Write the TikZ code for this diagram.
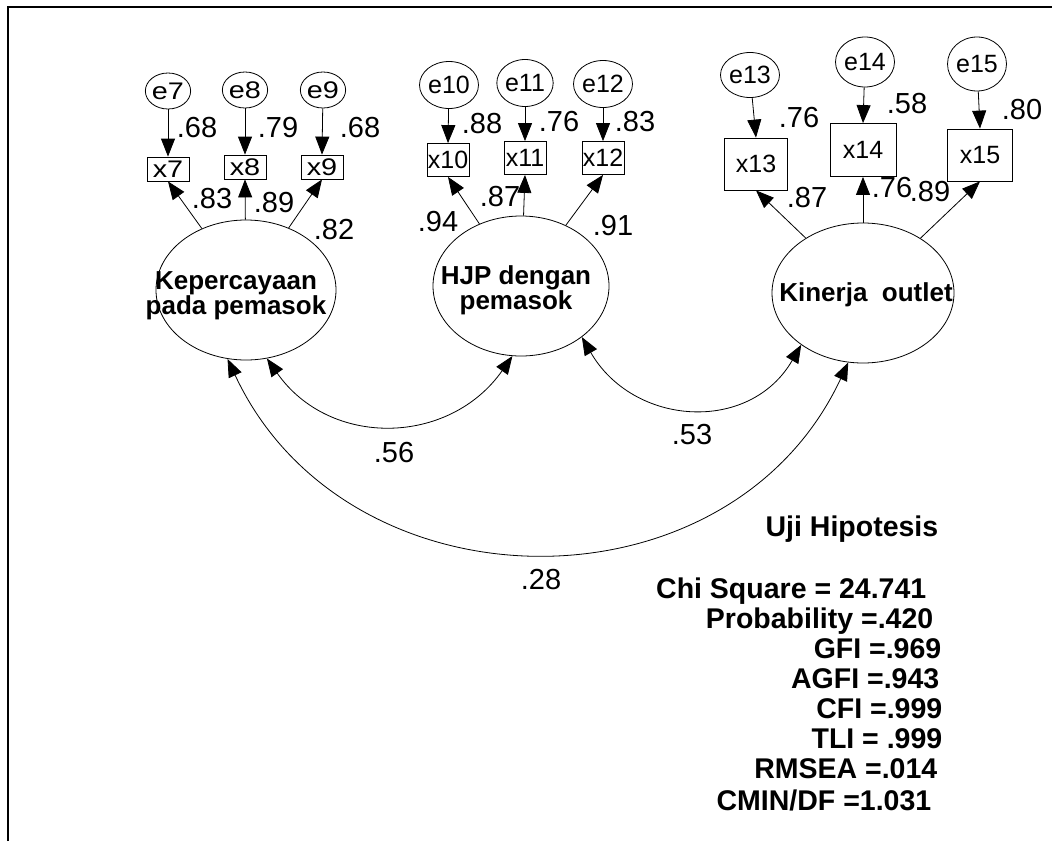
\documentclass[tikz,border=0pt]{standalone}
\usepackage{fontspec}
\setmainfont{Liberation Sans}
\newfontfamily\sansA[FakeStretch=1.2]{Liberation Sans}
\newfontfamily\sansB[FakeStretch=1.0]{Liberation Sans}
\usepackage{xcolor}
\usepackage{tikz}
\usetikzlibrary{shapes.geometric, arrows.meta}

\begin{document}
\begin{tikzpicture}[x=1pt, y=1pt, line width=0.8pt, >={Triangle[length=18pt, width=14pt]},
        errv/.style={ellipse, draw, inner sep=0pt},
        indv/.style={rectangle, draw, inner sep=0pt},
        lat/.style={ellipse, draw, inner sep=0pt, minimum height=140pt},
        lblA/.style={font=\sansA\fontsize{24}{24}\selectfont},
        lblB/.style={font=\sansB\fontsize{25}{25}\selectfont},
        latname/.style={align=center, font=\bfseries\fontsize{26}{24}\selectfont},
        coef/.style={font=\fontsize{29}{29}\selectfont},
        gof/.style={anchor=base east, font=\bfseries\fontsize{28.5}{28}\selectfont}]
        \useasboundingbox (0,0) rectangle (1052,-841);
        \draw[line width=2pt] (8,-841) -- (8,-7) -- (1052,-7);

        % Kepercayaan pada pemasok
        \node[errv, lblA, minimum width=40pt, minimum height=36pt] (e7) at (168,-91) {e7};
        \node[errv, lblA, minimum width=40pt, minimum height=36pt] (e8) at (245,-90) {e8};
        \node[errv, lblA, minimum width=40pt, minimum height=36pt] (e9) at (323,-90) {e9};
        \node[indv, lblA, minimum width=42pt, minimum height=24pt] (x7) at (168,-169) {x7};
        \node[indv, lblA, minimum width=42pt, minimum height=24pt] (x8) at (245,-167) {x8};
        \node[indv, lblA, minimum width=42pt, minimum height=24pt] (x9) at (322,-167) {x9};
        \node[lat, minimum width=180pt] (kep) at (246,-290) {};
        \node[latname] (kep-txt) at (236,-296) {Kepercayaan\\pada pemasok};

        % HJP dengan pemasok
        \node[errv, lblB, minimum width=42pt, minimum height=47pt] (e10) at (449,-85) {e10};
        \node[errv, lblB, minimum width=42pt, minimum height=47pt] (e11) at (525,-83) {e11};
        \node[errv, lblB, minimum width=42pt, minimum height=47pt] (e12) at (603,-84) {e12};
        \node[indv, lblB, minimum width=42pt, minimum height=33pt] (x10) at (448,-160) {x10};
        \node[indv, lblB, minimum width=42pt, minimum height=33pt] (x11) at (525,-158) {x11};
        \node[indv, lblB, minimum width=42pt, minimum height=33pt] (x12) at (603,-158) {x12};
        \node[lat, minimum width=176pt] (hjp) at (521,-286) {};
        \node[latname] (hjp-txt) at (516,-290) {HJP dengan\\pemasok};

        % Kinerja outlet
        \node[errv, lblB, minimum width=46pt, minimum height=45pt] (e13) at (750,-75) {e13};
        \node[errv, lblB, minimum width=55pt, minimum height=50pt] (e14) at (865,-62) {e14};
        \node[errv, lblB, minimum width=52pt, minimum height=54pt] (e15) at (977,-64) {e15};
        \node[indv, lblB, minimum width=63pt, minimum height=52pt] (x13) at (756,-164) {x13};
        \node[indv, lblB, minimum width=66pt, minimum height=53pt] (x14) at (863,-150) {x14};
        \node[indv, lblB, minimum width=65pt, minimum height=52pt] (x15) at (980,-155) {x15};
        \node[lat, minimum width=182pt] (kin) at (863,-293) {};
        \node[latname] (kin-txt) at (866,-295) {Kinerja\ \ outlet};

        \path[->]
        (e7) edge (x7.north)  (e8) edge (x8.north)  (e9) edge (x9.north)
        (e10) edge (x10.north)  (e11) edge (x11.north)  (e12) edge (x12.north)
        (e13) edge (x13.north)  (e14) edge (x14.north)  (e15) edge (x15.north)
        (kep) edge (x7.south)  (kep) edge (x8.south)  (kep) edge (x9.south)
        (hjp) edge (x10.south)  (hjp) edge (x11.south)  (hjp) edge (x12.south)
        (kin) edge (x13.south)  (kin) edge (x14.south)  (kin) edge (x15.south);

        \draw[<->] (kep.-73) to[out=-55, in=-125, looseness=1.14] (hjp.-97);
        \draw[<->] (hjp.-40) to[out=-60, in=-120, looseness=1.2] (kin.-140);
        \draw[<->] (kep.-105) to[out=-65, in=-115, looseness=1.16] (kin.-102);

        \node[coef] (l7) at (197,-128) {.68};
        \node[coef] (l8) at (278,-128) {.79};
        \node[coef] (l9) at (360,-128) {.68};
        \node[coef] (k7) at (212,-199) {.83};
        \node[coef] (k8) at (274,-203) {.89};
        \node[coef] (k9) at (334,-230) {.82};
        \node[coef] (l10) at (482,-124) {.88};
        \node[coef] (l11) at (559,-122) {.76};
        \node[coef] (l12) at (635,-122) {.83};
        \node[coef] (k10) at (438,-222) {.94};
        \node[coef] (k11) at (500,-197) {.87};
        \node[coef] (k12) at (613,-226) {.91};
        \node[coef] (l13) at (799,-118) {.76};
        \node[coef] (l14) at (907,-104) {.58};
        \node[coef] (l15) at (1022,-110) {.80};
        \node[coef] (k13) at (807,-198) {.87};
        \node[coef] (k14) at (892,-188) {.76};
        \node[coef] (k15) at (930,-192) {.89};
        \node[coef] (c1) at (394,-453) {.56};
        \node[coef] (c2) at (692,-435) {.53};
        \node[coef] (c3) at (541,-580) {.28};

        \node[gof] (uji) at (942,-536) {Uji Hipotesis};
        \node[gof] (chi) at (930,-598) {Chi Square = 24.741};
        \node[gof] (prob) at (937,-628) {Probability =.420};
        \node[gof] (gfi) at (945,-658) {GFI =.969};
        \node[gof] (agfi) at (943,-688) {AGFI =.943};
        \node[gof] (cfi) at (946,-718) {CFI =.999};
        \node[gof] (tli) at (946,-748) {TLI = .999};
        \node[gof] (rmsea) at (941,-778) {RMSEA =.014};
        \node[gof] (cmin) at (935,-810) {CMIN/DF =1.031};
\end{tikzpicture}
\end{document}
